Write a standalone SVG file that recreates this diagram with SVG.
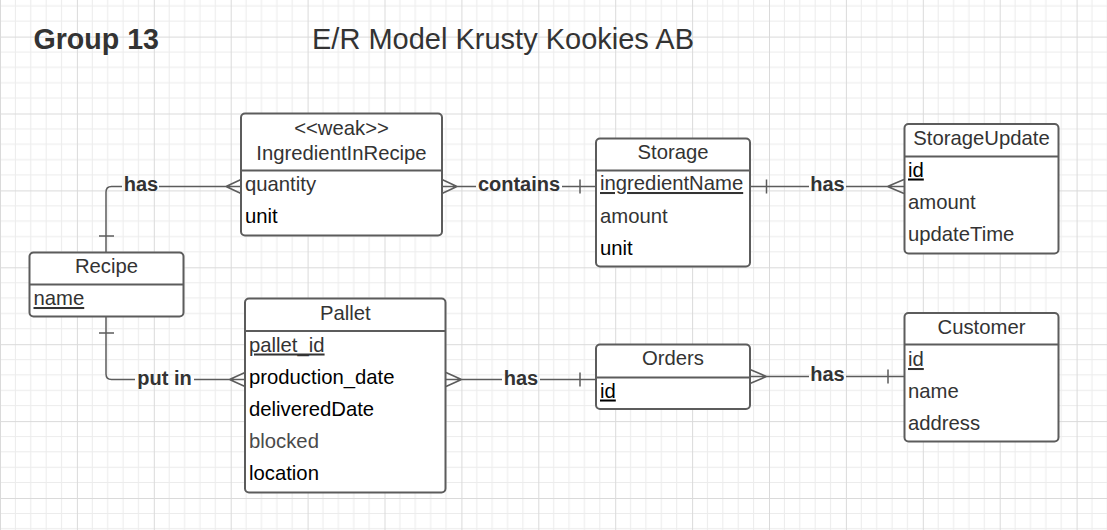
<svg xmlns="http://www.w3.org/2000/svg" width="1107" height="530" viewBox="0 0 1107 530">
<style>
.ent{fill:#fff;stroke:#5c5c5c;stroke-width:2}
.div{stroke:#5c5c5c;stroke-width:2}
.ttl{font-family:"Liberation Sans",Arial,sans-serif;font-size:20.3px;fill:#333;text-anchor:middle}
.att{font-family:"Liberation Sans",Arial,sans-serif;font-size:20.3px;fill:#333}
.blk{fill:#000}
.key{text-decoration:underline}
.con{fill:none;stroke:#5c5c5c;stroke-width:1.5}
.lbl{font-family:"Liberation Sans",Arial,sans-serif;font-size:20px;font-weight:bold;fill:#333;text-anchor:middle}
</style>
<defs>
<pattern id="grid" patternUnits="userSpaceOnUse" x="0" y="36.6" width="76.9" height="76.9">
<rect width="76.9" height="76.9" fill="#fff"/>
<path d="M15.38 0V76.9M30.76 0V76.9M46.14 0V76.9M61.52 0V76.9M0 15.38H76.9M0 30.76H76.9M0 46.14H76.9M0 61.52H76.9" stroke="#ececec" stroke-width="1" fill="none"/>
<path d="M0.5 0V76.9M0 0.5H76.9" stroke="#dadada" stroke-width="1" fill="none"/>
</pattern>
</defs>
<rect width="1107" height="530" fill="url(#grid)"/>
<text x="33.5" y="48.5" font-family="Liberation Sans,Arial,sans-serif" font-size="28.6" font-weight="bold" fill="#333">Group 13</text>
<text x="312" y="48.5" font-family="Liberation Sans,Arial,sans-serif" font-size="29" fill="#333">E/R Model Krusty Kookies AB</text>

<g id="connectors">
<path class="con" d="M106 252V192Q106 186.5 111.5 186.5H122M159 186.5H241M226 186.5L241 179.5M226 186.5L241 193.5M99 236H114"/>
<path class="con" d="M442 186.5H476M562 186.5H596M457 186.5L442 179.5M457 186.5L442 193.5M580 179.5V193.5"/>
<path class="con" d="M750 186.5H809M846 186.5H904M766.5 179.5V193.5M887.5 186.5L904 179.5M887.5 186.5L904 193.5"/>
<path class="con" d="M106 317V374Q106 379.5 111.5 379.5H135M194 379.5H245M99 333H114M229.5 379.5L245 372.5M229.5 379.5L245 386.5"/>
<path class="con" d="M446 379.5H502M540 379.5H596M461.5 379.5L446 372.5M461.5 379.5L446 386.5M580 372.5V386.5"/>
<path class="con" d="M750 376.5H809M846 376.5H904M766.5 376.5L750 369.5M766.5 376.5L750 383.5M888 369.5V383.5"/>
<text class="lbl" x="141" y="191">has</text>
<text class="lbl" x="519" y="190.5">contains</text>
<text class="lbl" x="827.5" y="191">has</text>
<text class="lbl" x="164.5" y="384.5">put in</text>
<text class="lbl" x="521" y="384.5">has</text>
<text class="lbl" x="827.5" y="381">has</text>
</g>

<g id="IngredientInRecipe">
<rect class="ent" x="241" y="113.5" width="201" height="122" rx="4"/>
<line class="div" x1="241" y1="170.5" x2="442" y2="170.5"/>
<text class="ttl" x="341.5" y="134.5">&lt;&lt;weak&gt;&gt;</text>
<text class="ttl" x="341.5" y="160">IngredientInRecipe</text>
<text class="att" x="245" y="190.5">quantity</text>
<text class="att blk" x="245" y="223">unit</text>
</g>

<g id="Recipe">
<rect class="ent" x="29.5" y="252.5" width="154" height="64" rx="4"/>
<line class="div" x1="29.5" y1="284.5" x2="183.5" y2="284.5"/>
<text class="ttl" x="106.5" y="272.5">Recipe</text>
<text class="att key" x="33.5" y="305">name</text>
</g>

<g id="Pallet">
<rect class="ent" x="245" y="298.5" width="200.5" height="194" rx="4"/>
<line class="div" x1="245" y1="331" x2="445.5" y2="331"/>
<text class="ttl" x="345.3" y="319.5">Pallet</text>
<text class="att key" x="249" y="351.5">pallet_id</text>
<text class="att blk" x="249" y="383.5">production_date</text>
<text class="att blk" x="249" y="416">deliveredDate</text>
<text class="att" x="249" y="448" style="fill:#4a4a4a">blocked</text>
<text class="att blk" x="249" y="480">location</text>
</g>

<g id="Storage">
<rect class="ent" x="596" y="138.5" width="154" height="128" rx="4"/>
<line class="div" x1="596" y1="170.5" x2="750" y2="170.5"/>
<text class="ttl" x="673" y="159">Storage</text>
<text class="att key" x="600" y="190">ingredientName</text>
<text class="att" x="600" y="223">amount</text>
<text class="att blk" x="600" y="255">unit</text>
</g>

<g id="StorageUpdate">
<rect class="ent" x="904.5" y="124" width="154" height="129.5" rx="4"/>
<line class="div" x1="904.5" y1="156.5" x2="1058.5" y2="156.5"/>
<text class="ttl" x="981.5" y="144.5">StorageUpdate</text>
<text class="att key blk" x="908" y="176.5">id</text>
<text class="att" x="908" y="209">amount</text>
<text class="att" x="908" y="241">updateTime</text>
</g>

<g id="Orders">
<rect class="ent" x="596" y="344.5" width="154" height="64.5" rx="4"/>
<line class="div" x1="596" y1="377.5" x2="750" y2="377.5"/>
<text class="ttl" x="673" y="365">Orders</text>
<text class="att key blk" x="600" y="397.5">id</text>
</g>

<g id="Customer">
<rect class="ent" x="904.5" y="313" width="154" height="128.5" rx="4"/>
<line class="div" x1="904.5" y1="344.5" x2="1058.5" y2="344.5"/>
<text class="ttl" x="981.5" y="333.5">Customer</text>
<text class="att key" x="908" y="366">id</text>
<text class="att" x="908" y="397.5">name</text>
<text class="att" x="908" y="430">address</text>
</g>
</svg>
